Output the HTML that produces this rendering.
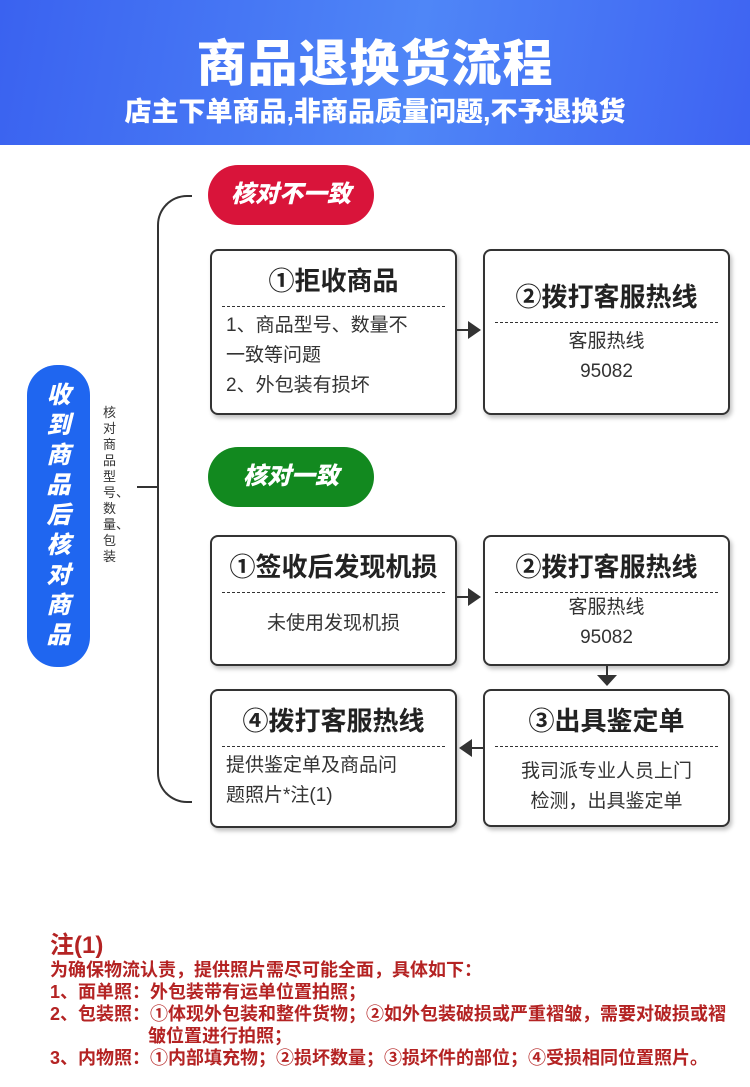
<!DOCTYPE html>
<html><head><meta charset="utf-8"><style>
*{margin:0;padding:0;box-sizing:border-box}
body{width:750px;height:1087px;background:#fff;position:relative;font-family:"Liberation Sans","Noto Sans CJK SC",sans-serif;overflow:hidden}
.hd{position:absolute;left:0;top:0;width:750px;height:145px;background:linear-gradient(100deg,#3a62f0,#4f86f7 55%,#3e63f2)}
.t1{position:absolute;top:24px;width:750px;text-align:center;color:#fff;font-size:50px;font-weight:900;letter-spacing:1px}
.t2{position:absolute;top:90px;width:750px;text-align:center;color:#fff;font-size:27px;font-weight:900}
.abs{position:absolute}
.box{position:absolute;border:2.5px solid #333;border-radius:8px;background:#fff;box-shadow:2px 3px 4px rgba(0,0,0,.25)}
.bt{text-align:center;font-size:26px;font-weight:700;color:#222;margin-top:10px}
.dl{border-top:1.5px dashed #333;margin:8px 10px 0}
.bd{font-size:19px;color:#333;line-height:30px;padding:4px 32px 0 14px}
.c{text-align:center;padding:4px 14px 0}
.pill{position:absolute;left:208px;width:166px;height:60px;border-radius:30px;color:#fff;font-size:24px;font-weight:900;font-style:italic;text-align:center;line-height:60px}
.note{position:absolute;left:50px;color:#b42323;font-weight:700;font-size:18px;line-height:22px;white-space:nowrap}
</style></head><body>
<div class="hd"></div>
<div class="t1">商品退换货流程</div>
<div class="t2">店主下单商品,非商品质量问题,不予退换货</div>

<div class="abs" style="left:27px;top:365px;width:63px;height:302px;border-radius:30px;background:#1f66f0;color:#fff;font-size:24px;font-weight:900;font-style:italic;text-align:center;line-height:30px;padding-top:16px">收<br>到<br>商<br>品<br>后<br>核<br>对<br>商<br>品</div>
<div class="abs" style="left:103px;top:405px;width:13px;font-size:13px;line-height:16px;color:#333;word-break:break-all">核对商品型号、数量、包装</div>

<div class="abs" style="left:157px;top:195px;width:35px;height:608px;border:2px solid #333;border-right:none;border-radius:30px 0 0 30px"></div>
<div class="abs" style="left:137px;top:486px;width:21px;border-top:2px solid #333"></div>

<div class="pill" style="top:165px;background:#d9143a">核对不一致</div>
<div class="pill" style="top:447px;background:#12891f">核对一致</div>

<div class="box" style="left:210px;top:249px;width:247px;height:166px"><div class="bt">①拒收商品</div><div class="dl"></div><div class="bd">1、商品型号、数量不一致等问题<br>2、外包装有损坏</div></div>
<div class="box" style="left:483px;top:249px;width:247px;height:166px"><div class="bt" style="margin-top:26px">②拨打客服热线</div><div class="dl"></div><div class="bd c">客服热线<br>95082</div></div>

<div class="box" style="left:210px;top:535px;width:247px;height:131px"><div class="bt">①签收后发现机损</div><div class="dl"></div><div class="bd c" style="padding-top:16px">未使用发现机损</div></div>
<div class="box" style="left:483px;top:535px;width:247px;height:131px"><div class="bt">②拨打客服热线</div><div class="dl"></div><div class="bd c" style="padding-top:0">客服热线<br>95082</div></div>

<div class="box" style="left:210px;top:689px;width:247px;height:139px"><div class="bt">④拨打客服热线</div><div class="dl"></div><div class="bd">提供鉴定单及商品问<br>题照片*注(1)</div></div>
<div class="box" style="left:483px;top:689px;width:247px;height:138px"><div class="bt">③出具鉴定单</div><div class="dl"></div><div class="bd c" style="padding:10px 32px 0">我司派专业人员上门检测，出具鉴定单</div></div>

<svg class="abs" style="left:0;top:0" width="750" height="1087">
<g stroke="#333" stroke-width="2" fill="#333">
<line x1="457" y1="330" x2="470" y2="330"/><polygon points="468,321 481,330 468,339" stroke="none"/>
<line x1="457" y1="597" x2="470" y2="597"/><polygon points="468,588 481,597 468,606" stroke="none"/>
<line x1="607" y1="666" x2="607" y2="676"/><polygon points="597,675 617,675 607,686" stroke="none"/>
<line x1="483" y1="748" x2="470" y2="748"/><polygon points="472,739 459,748 472,757" stroke="none"/>
</g></svg>

<div class="note" style="top:932px;font-size:24px;line-height:28px">注(1)</div>
<div class="note" style="top:959px">为确保物流认责，提供照片需尽可能全面，具体如下：</div>
<div class="note" style="top:981px">1、面单照：外包装带有运单位置拍照；</div>
<div class="note" style="top:1003px">2、包装照：①体现外包装和整件货物；②如外包装破损或严重褶皱，需要对破损或褶</div>
<div class="note" style="top:1025px;left:148px">皱位置进行拍照；</div>
<div class="note" style="top:1047px">3、内物照：①内部填充物；②损坏数量；③损坏件的部位；④受损相同位置照片。</div>
</body></html>
